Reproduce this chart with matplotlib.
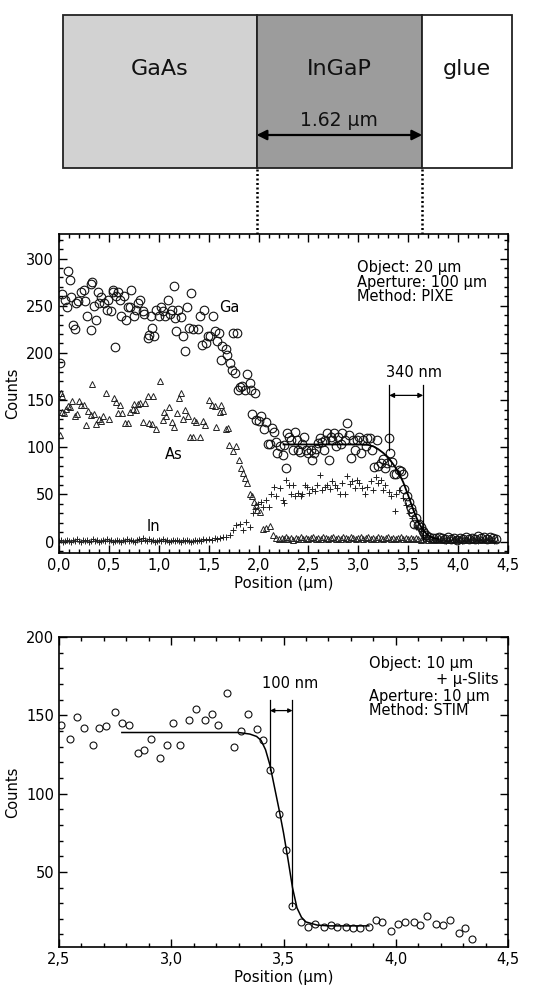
import matplotlib
matplotlib.use("Agg")
import matplotlib.pyplot as plt
from matplotlib.patches import Rectangle
from matplotlib.ticker import MultipleLocator

plt.rcParams['font.family'] = ['DejaVu Sans']

# ---------------- data ----------------
layer_names = ['GaAs', 'InGaP', 'glue']
layer_edges = [0.04, 1.98, 3.64, 4.54]
layer_colors = ['#d2d2d2', '#9c9c9c', '#ffffff']
layer_label = '1.62 µm'

ga_pts = [(0.01,189),(0.03,262),(0.06,256),(0.08,249),(0.09,287),(0.11,277),(0.12,259),(0.14,230),
          (0.16,225),(0.17,253),(0.19,255),(0.22,265),(0.25,267),(0.26,255),(0.28,239),(0.32,224),
          (0.32,273),(0.33,275),(0.35,250),(0.37,235),(0.39,265),(0.40,253),(0.42,259),(0.45,253),
          (0.48,246),(0.49,256),(0.52,244),(0.54,265),(0.54,267),(0.56,206),(0.57,260),(0.59,265),
          (0.61,256),(0.62,239),(0.65,260),(0.67,235),(0.69,249),(0.71,249),(0.72,267),(0.75,239),
          (0.77,246),(0.79,253),(0.81,256),(0.84,244),(0.85,241),(0.89,216),(0.90,219),(0.92,239),
          (0.93,226),(0.95,218),(0.97,246),(1.00,239),(1.02,249),(1.04,244),(1.06,239),(1.09,256),
          (1.11,241),(1.13,246),(1.15,271),(1.16,237),(1.17,223),(1.19,245),(1.22,238),(1.24,218),
          (1.26,202),(1.28,249),(1.30,226),(1.32,263),(1.34,225),(1.39,225),(1.41,239),(1.43,208),
          (1.45,246),(1.47,211),(1.49,218),(1.51,218),(1.54,239),(1.56,223),(1.58,213),(1.60,221),
          (1.62,193),(1.63,207),(1.67,204),(1.68,198),(1.71,189),(1.73,182),(1.74,221),(1.76,179),
          (1.78,221),(1.79,161),(1.81,164),(1.83,165),(1.86,161),(1.88,178),(1.91,168),(1.92,161),
          (1.93,135),(1.96,157),(1.97,129),(2.00,128),(2.02,133),(2.05,119),(2.07,127),(2.09,104),
          (2.11,103),(2.13,120),(2.15,116),(2.17,106),(2.18,94),(2.21,101),(2.24,92),(2.26,102),
          (2.28,78),(2.29,115),(2.31,111),(2.33,108),(2.35,97),(2.37,116),(2.39,108),(2.40,97),
          (2.42,95),(2.44,104),(2.46,111),(2.48,97),(2.50,94),(2.53,97),(2.54,87),(2.56,94),
          (2.58,98),(2.60,105),(2.62,110),(2.64,106),(2.66,97),(2.67,108),(2.69,115),(2.71,87),
          (2.73,111),(2.74,108),(2.76,115),(2.78,101),(2.80,111),(2.83,104),(2.84,115),(2.87,108),
          (2.89,126),(2.91,113),(2.93,89),(2.95,108),(2.97,97),(2.99,108),(3.01,111),(3.03,94),
          (3.05,108),(3.08,101),(3.09,110),(3.12,110),(3.14,97),(3.16,79),(3.19,108),(3.20,80),
          (3.23,83),(3.25,88),(3.27,78),(3.29,83),(3.31,110),(3.32,94),(3.34,84),(3.36,72),
          (3.38,72),(3.41,76),(3.43,75),(3.45,72),(3.46,56),(3.49,48),(3.51,42),(3.53,36),
          (3.54,31),(3.56,19),(3.58,25),(3.60,18),(3.61,19),(3.63,16),(3.65,11),(3.66,9),
          (3.68,7),(3.71,5),(3.75,4),(3.78,4),(3.81,5),(3.84,4),(3.87,3),(3.90,5),(3.93,3),
          (3.96,4),(3.99,2),(4.02,4),(4.05,3),(4.08,5),(4.11,3),(4.14,4),(4.17,3),(4.20,6),
          (4.23,4),(4.26,5),(4.29,3),(4.32,5),(4.35,4),(4.38,3)]

as_pts = [(0.01,113),(0.02,157),(0.03,154),(0.03,137),(0.05,136),(0.07,141),(0.09,144),(0.11,143),
          (0.13,149),(0.16,133),(0.18,135),(0.20,149),(0.22,145),(0.25,145),(0.27,124),(0.29,138),
          (0.32,134),(0.33,167),(0.35,135),(0.37,125),(0.40,130),(0.42,128),(0.44,133),(0.47,158),
          (0.50,130),(0.55,152),(0.57,148),(0.59,136),(0.61,145),(0.63,136),(0.66,126),(0.69,126),
          (0.71,137),(0.74,141),(0.75,146),(0.77,140),(0.79,146),(0.81,147),(0.84,127),(0.86,147),
          (0.89,154),(0.90,126),(0.93,125),(0.94,154),(0.97,119),(1.01,170),(1.04,129),(1.05,137),
          (1.07,133),(1.10,143),(1.13,127),(1.15,121),(1.18,136),(1.20,152),(1.22,157),(1.24,130),
          (1.26,140),(1.29,133),(1.31,111),(1.34,111),(1.35,129),(1.37,127),(1.41,111),(1.44,128),
          (1.46,124),(1.50,150),(1.53,145),(1.56,144),(1.57,122),(1.61,137),(1.62,145),(1.64,138),
          (1.67,119),(1.69,120),(1.70,102),(1.74,96),(1.77,101),(1.80,87),(1.82,78),(1.84,73),
          (1.86,67),(1.88,62),(1.91,50),(1.93,48),(1.95,42),(1.97,39),(1.98,34),(2.01,31),
          (2.04,13),(2.07,14),(2.11,17),(2.14,7),(2.17,4),(2.20,3),(2.23,4),(2.25,3),(2.28,5),
          (2.30,3),(2.33,4),(2.35,2),(2.38,4),(2.40,3),(2.43,5),(2.45,3),(2.48,4),(2.50,3),
          (2.53,4),(2.55,5),(2.58,3),(2.60,4),(2.63,3),(2.65,5),(2.68,4),(2.70,3),(2.73,4),
          (2.75,5),(2.78,3),(2.80,4),(2.83,3),(2.85,5),(2.88,4),(2.90,3),(2.93,5),(2.95,4),
          (2.98,3),(3.00,4),(3.03,5),(3.05,3),(3.08,4),(3.10,5),(3.13,3),(3.15,4),(3.18,3),
          (3.20,5),(3.23,4),(3.25,3),(3.28,4),(3.30,5),(3.33,3),(3.35,4),(3.38,3),(3.40,4),
          (3.43,5),(3.45,3),(3.48,4),(3.50,3),(3.53,4),(3.55,3),(3.58,4),(3.60,3),(3.63,2),
          (3.65,3),(3.68,4),(3.70,2),(3.73,3),(3.75,2),(3.78,3),(3.80,2),(3.83,3),(3.85,2),
          (3.88,3),(3.90,2),(3.93,3),(3.95,2),(3.98,3),(4.00,2),(4.03,3),(4.05,2),(4.08,3),
          (4.10,2),(4.13,3),(4.15,2),(4.18,3),(4.20,2),(4.23,3),(4.25,2),(4.28,3),(4.30,2),
          (4.33,3),(4.35,2),(4.38,3)]

in_pts = [(0.00,1),(0.02,2),(0.04,0),(0.06,1),(0.08,2),(0.10,1),(0.12,0),(0.14,2),(0.16,1),
          (0.18,3),(0.20,1),(0.22,0),(0.24,2),(0.26,1),(0.28,2),(0.30,0),(0.32,1),(0.34,3),
          (0.36,1),(0.38,2),(0.40,0),(0.42,1),(0.44,2),(0.46,1),(0.48,3),(0.50,1),(0.52,2),
          (0.54,0),(0.56,1),(0.58,2),(0.60,1),(0.62,0),(0.64,2),(0.66,1),(0.68,3),(0.70,1),
          (0.72,2),(0.74,1),(0.76,0),(0.78,2),(0.80,3),(0.82,1),(0.84,4),(0.86,2),(0.88,1),
          (0.90,3),(0.92,1),(0.94,2),(0.96,0),(0.98,1),(1.00,2),(1.02,1),(1.04,3),(1.06,1),
          (1.08,2),(1.10,0),(1.12,1),(1.14,2),(1.16,1),(1.18,2),(1.20,1),(1.22,0),(1.24,2),
          (1.26,1),(1.28,2),(1.30,1),(1.32,0),(1.34,1),(1.36,2),(1.38,1),(1.40,2),(1.42,1),
          (1.44,3),(1.47,2),(1.50,3),(1.53,2),(1.56,4),(1.58,3),(1.61,4),(1.64,5),(1.67,5),
          (1.71,7),(1.74,12),(1.77,18),(1.81,19),(1.84,12),(1.87,21),(1.91,16),(1.94,30),
          (1.96,35),(1.99,40),(2.02,42),(2.04,37),(2.07,44),(2.10,37),(2.12,51),(2.15,58),
          (2.17,48),(2.21,57),(2.24,44),(2.26,41),(2.28,65),(2.31,60),(2.33,51),(2.35,60),
          (2.37,48),(2.40,52),(2.43,48),(2.44,51),(2.47,60),(2.49,58),(2.51,52),(2.54,56),
          (2.57,54),(2.59,60),(2.62,71),(2.64,55),(2.67,58),(2.69,60),(2.72,56),(2.74,64),
          (2.77,60),(2.79,57),(2.82,51),(2.84,62),(2.87,50),(2.89,70),(2.92,61),(2.94,64),
          (2.97,57),(2.99,65),(3.01,62),(3.04,57),(3.07,51),(3.09,58),(3.13,64),(3.15,55),
          (3.18,69),(3.20,62),(3.23,65),(3.25,55),(3.27,60),(3.31,53),(3.33,48),(3.37,33),
          (3.38,51),(3.41,55),(3.45,46),(3.48,39),(3.51,30),(3.54,25),(3.58,16),(3.63,11),
          (3.68,5),(3.72,3),(3.76,2),(3.80,3),(3.84,2),(3.88,1),(3.92,2),(3.96,3),(4.00,2),
          (4.04,1),(4.08,2),(4.12,3),(4.16,2),(4.20,1),(4.24,2),(4.28,3),(4.32,2),(4.36,1)]

# fitted edge profile (PIXE, Ga)
fit1_x = [2.25, 3.00, 3.10, 3.15, 3.20, 3.25, 3.30, 3.35, 3.40, 3.45, 3.50, 3.55, 3.60, 3.65, 3.70, 3.75, 3.80]
fit1_y = [103, 103, 102.5, 101, 98, 94, 89, 82, 74, 63, 49, 34, 21, 12, 6.5, 4, 3]

stim_pts = [(2.51,144),(2.55,135),(2.58,149),(2.61,142),(2.65,131),(2.68,142),(2.71,143),(2.75,152),
            (2.78,145),(2.81,144),(2.85,126),(2.88,128),(2.91,135),(2.95,123),(2.98,131),(3.01,145),
            (3.04,131),(3.08,147),(3.11,154),(3.15,147),(3.18,151),(3.21,144),(3.25,164),(3.28,130),
            (3.31,140),(3.34,151),(3.38,141),(3.41,134),(3.44,115),(3.48,87),(3.51,64),(3.54,28),
            (3.58,18),(3.61,15),(3.64,17),(3.68,15),(3.71,16),(3.74,15),(3.78,15),(3.81,14),
            (3.84,14),(3.88,15),(3.91,19),(3.94,18),(3.98,12),(4.01,17),(4.04,18),(4.08,18),
            (4.11,16),(4.14,22),(4.18,17),(4.21,16),(4.24,19),(4.28,11),(4.31,14),(4.34,7)]

fit2_x = [2.78, 3.30, 3.35, 3.38, 3.40, 3.42, 3.44, 3.46, 3.48, 3.50, 3.52, 3.54, 3.56, 3.58, 3.60, 3.65, 3.70, 3.88]
fit2_y = [139, 139, 138, 136.5, 134, 128, 118, 104, 90, 75, 58, 40, 27, 21, 18, 16, 15.5, 15.5]

x1_ticks = [0.0, 0.5, 1.0, 1.5, 2.0, 2.5, 3.0, 3.5, 4.0, 4.5]
x1_labels = ['0,0', '0,5', '1,0', '1,5', '2,0', '2,5', '3,0', '3,5', '4,0', '4,5']
y1_ticks = [0, 50, 100, 150, 200, 250, 300]
x2_ticks = [2.5, 3.0, 3.5, 4.0, 4.5]
x2_labels = ['2,5', '3,0', '3,5', '4,0', '4,5']
y2_ticks = [50, 100, 150, 200]

width1 = (3.31, 3.65)   # 340 nm marker
width2 = (3.44, 3.54)   # 100 nm marker

# ---------------- figure ----------------
W, H = 543, 989
fig = plt.figure(figsize=(W / 100, H / 100), dpi=100)

def frac(l, t, r, b):
    return [l / W, 1 - b / H, (r - l) / W, (b - t) / H]

FS = 10.5
TFS = 10.5

def style(ax):
    for s in ax.spines.values():
        s.set_linewidth(1.2)
    ax.tick_params(which='both', direction='in', top=True, right=True, labelsize=FS, width=1.0)
    ax.tick_params(which='major', length=6)
    ax.tick_params(which='minor', length=3)

# top diagram
ax0 = fig.add_axes(frac(59, 10, 508, 234))
ax0.set_xlim(0, 4.5)
ax0.set_ylim(0, 224)
ax0.axis('off')
box_bot, box_top = 66, 219
for i, name in enumerate(layer_names):
    x0, x1 = layer_edges[i], layer_edges[i + 1]
    ax0.add_patch(Rectangle((x0, box_bot), x1 - x0, box_top - box_bot, facecolor=layer_colors[i],
                            edgecolor='#222222', linewidth=1.3, clip_on=False))
    ax0.text((x0 + x1) / 2, 165, name, ha='center', va='center', fontsize=16, color='#111111')
ax0.annotate('', xy=(layer_edges[1], 99), xytext=(layer_edges[2], 99),
             arrowprops=dict(arrowstyle='<|-|>', color='black', lw=1.6, mutation_scale=15,
                             shrinkA=0, shrinkB=0))
ax0.text((layer_edges[1] + layer_edges[2]) / 2, 114, layer_label, ha='center', va='center',
         fontsize=13.5, color='#111111')
for xe in layer_edges[1:3]:
    ax0.plot([xe, xe], [0, box_bot], color='black', lw=1.8, ls=(0, (0.8, 1.0)), clip_on=False)

# middle plot: PIXE
ax1 = fig.add_axes(frac(59, 234, 508, 553))
ax1.set_xlim(0, 4.5)
ax1.set_ylim(-12, 326)
gx, gy = zip(*ga_pts)
ax_, ay = zip(*as_pts)
ix, iy = zip(*in_pts)
ax1.plot(ax_, ay, ls='none', marker='^', ms=5, mfc='none', mec='#222222', mew=0.7)
ax1.plot(ix, iy, ls='none', marker='+', ms=4.5, color='#222222', mew=0.7)
ax1.plot(gx, gy, ls='none', marker='o', ms=6.2, mfc='none', mec='#111111', mew=0.8)
ax1.plot(fit1_x, fit1_y, color='black', lw=1.3)
ax1.set_xticks(x1_ticks)
ax1.set_xticklabels(x1_labels)
ax1.set_yticks(y1_ticks)
ax1.xaxis.set_minor_locator(MultipleLocator(0.1))
ax1.yaxis.set_minor_locator(MultipleLocator(10))
style(ax1)
ax1.set_xlabel('Position (µm)', fontsize=10.8, labelpad=2)
ax1.set_ylabel('Counts', fontsize=10.5, labelpad=4)
ax1.text(1.71, 248, 'Ga', fontsize=TFS, ha='center', va='center')
ax1.text(1.15, 92, 'As', fontsize=TFS, ha='center', va='center')
ax1.text(0.95, 16, 'In', fontsize=TFS, ha='center', va='center')
ax1.text(2.99, 298, 'Object: 20 µm\nAperture: 100 µm\nMethod: PIXE', fontsize=TFS,
         ha='left', va='top', linespacing=0.95)
ax1.plot([width1[0], width1[0]], [97, 166], color='black', lw=0.9)
ax1.plot([width1[1], width1[1]], [2, 166], color='black', lw=0.9)
ax1.annotate('', xy=(width1[0], 155), xytext=(width1[1], 155),
             arrowprops=dict(arrowstyle='<|-|>', color='black', lw=0.9, mutation_scale=7,
                             shrinkA=0, shrinkB=0))
ax1.text(sum(width1) / 2 + 0.08, 179, '340 nm', fontsize=TFS, ha='center', va='center')

# bottom plot: STIM
ax2 = fig.add_axes(frac(59, 637, 508, 947))
ax2.set_xlim(2.5, 4.5)
ax2.set_ylim(2, 200)
sx, sy = zip(*stim_pts)
ax2.plot(sx, sy, ls='none', marker='o', ms=5, mfc='none', mec='#111111', mew=0.8)
ax2.plot(fit2_x, fit2_y, color='black', lw=1.1)
ax2.set_xticks(x2_ticks)
ax2.set_xticklabels(x2_labels)
ax2.set_yticks(y2_ticks)
ax2.xaxis.set_minor_locator(MultipleLocator(0.1))
ax2.yaxis.set_minor_locator(MultipleLocator(10))
style(ax2)
ax2.set_xlabel('Position (µm)', fontsize=10.8, labelpad=2)
ax2.set_ylabel('Counts', fontsize=10.5, labelpad=4)
ax2.text(3.88, 188, 'Object: 10 µm', fontsize=TFS, ha='left', va='top')
ax2.text(4.46, 177.5, '+ µ-Slits', fontsize=TFS, ha='right', va='top')
ax2.text(3.88, 167, 'Aperture: 10 µm\nMethod: STIM', fontsize=TFS, ha='left', va='top', linespacing=0.95)
ax2.plot([width2[0], width2[0]], [115, 160], color='black', lw=0.9)
ax2.plot([width2[1], width2[1]], [28, 160], color='black', lw=0.9)
ax2.annotate('', xy=(width2[0], 153), xytext=(width2[1], 153),
             arrowprops=dict(arrowstyle='<|-|>', color='black', lw=0.9, mutation_scale=6,
                             shrinkA=0, shrinkB=0))
ax2.text(sum(width2) / 2 + 0.04, 170, '100 nm', fontsize=TFS, ha='center', va='center')

fig.savefig('out.png', dpi=100)
